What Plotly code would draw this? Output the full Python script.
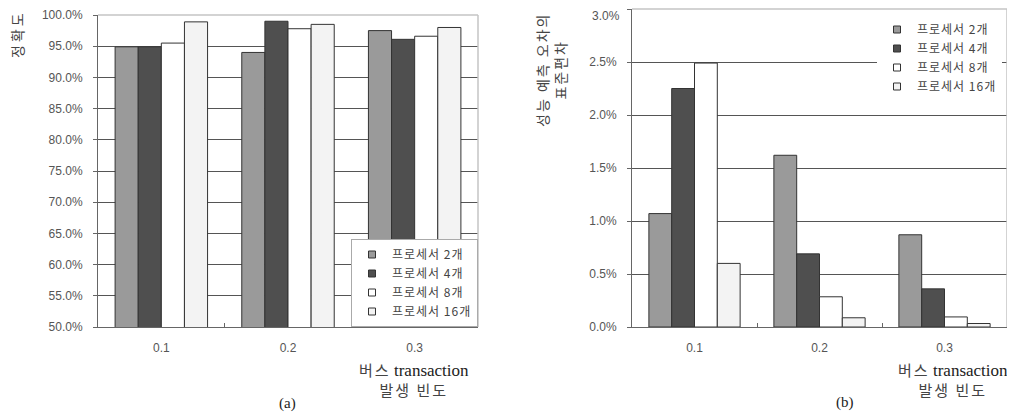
import plotly.graph_objects as go

categories = ["0.1", "0.2", "0.3"]
series_names = ["프로세서 2개", "프로세서 4개", "프로세서 8개", "프로세서 16개"]
series_colors = ["#9a9a9a", "#4f4f4f", "#ffffff", "#f3f3f3"]

# (a) accuracy (%)
acc_2 = [94.9, 94.0, 97.5]
acc_4 = [94.9, 99.0, 96.1]
acc_8 = [95.5, 97.8, 96.6]
acc_16 = [98.9, 98.5, 98.0]

# (b) standard deviation of prediction error (%)
std_2 = [1.07, 1.62, 0.87]
std_4 = [2.25, 0.69, 0.36]
std_8 = [2.49, 0.285, 0.095]
std_16 = [0.60, 0.087, 0.033]
std_max = 3.0

acc_series = [acc_2, acc_4, acc_8, acc_16]
std_series = [std_2, std_4, std_8, std_16]

W, H = 1015, 415
OFF = 8  # default page body margin offsets the figure by 8 px
def px(x):
    return (x - OFF) / W
def py(y):
    return 1 - (y - OFF) / H

def spaced(s, sp):
    return "<span style=\"letter-spacing:" + str(sp) + "px\">" + s + "</span>"

fig = go.Figure()

for name, col, vals in zip(series_names, series_colors, acc_series):
    fig.add_trace(go.Bar(x=categories, y=vals, name=name, marker=dict(color=col, line=dict(color="#333333", width=1)),
                         xaxis="x", yaxis="y", showlegend=False))
for name, col, vals in zip(series_names, series_colors, std_series):
    fig.add_trace(go.Bar(x=categories, y=vals, name=name, marker=dict(color=col, line=dict(color="#333333", width=1)),
                         xaxis="x2", yaxis="y2", showlegend=False))

# legend-only entries (small square swatches)
for leg, ax, ay in (("legend", "x", "y"), ("legend2", "x2", "y2")):
    for name, col in zip(series_names, series_colors):
        fig.add_trace(go.Scatter(x=[None], y=[None], mode="markers", name=spaced(name, 1),
                                 marker=dict(symbol="square", size=7, color=col, line=dict(color="#333333", width=1)),
                                 xaxis=ax, yaxis=ay, legend=leg))

tickfont = dict(family="Liberation Sans, Arial", size=12, color="#555555")

xcommon = dict(type="category", showline=True, linecolor="#666666", linewidth=1,
               ticks="inside", tickson="boundaries", ticklen=4, tickcolor="#666666",
               tickfont=tickfont, ticklabelstandoff=10, showgrid=False, zeroline=False)
ycommon = dict(showline=True, linecolor="#666666", linewidth=1, ticks="outside", ticklen=4,
               tickcolor="#666666", tickfont=tickfont, showgrid=True, gridcolor="#555555",
               gridwidth=1, zeroline=False, ticksuffix="%", tickformat=".1f", ticklabelstandoff=8)

legfont = dict(family="Noto Sans CJK KR", size=12, color="#444444")

fig.update_layout(
    width=W, height=H,
    margin=dict(l=0, r=0, t=0, b=0, autoexpand=False),
    paper_bgcolor="white", plot_bgcolor="white",
    barmode="group", bargap=0.27, bargroupgap=0,
    xaxis=dict(domain=[px(98), px(478)], anchor="y", **xcommon),
    yaxis=dict(domain=[py(327), py(15)], anchor="x", range=[50, 100], dtick=5, tick0=50,
               ticklabeloverflow="allow", **ycommon),
    xaxis2=dict(domain=[px(632), px(1007)], anchor="y2", **xcommon),
    yaxis2=dict(domain=[py(327), py(9)], anchor="x2", range=[0, std_max], dtick=0.5, tick0=0, **ycommon),
    legend=dict(x=px(478), y=py(327), xanchor="right", yanchor="bottom",
                bgcolor="white", bordercolor="#aaaaaa", borderwidth=1,
                font=legfont, itemwidth=30, tracegroupgap=0),
    legend2=dict(x=px(877), y=py(15), xanchor="left", yanchor="top",
                 bgcolor="white", borderwidth=0,
                 font=legfont, itemwidth=30, tracegroupgap=0),
    showlegend=True,
)

# top tick label of (b): the axis hides it at the page edge, so place it just below
fig.add_annotation(text=f"{std_max:.1f}%", xref="paper", yref="paper", x=px(621), y=py(8),
                   showarrow=False, font=tickfont, xanchor="right", yanchor="top", borderpad=0)

# light top/right plot borders
for xr, yr in (("x domain", "y domain"), ("x2 domain", "y2 domain")):
    fig.add_shape(type="line", xref=xr, yref=yr, x0=0, x1=1, y0=1, y1=1,
                  line=dict(color="#c4c4c4", width=1.5), layer="above")
    fig.add_shape(type="line", xref=xr, yref=yr, x0=1, x1=1, y0=0, y1=1,
                  line=dict(color="#c4c4c4", width=1.5), layer="above")

kfont = dict(family="Noto Sans CJK KR", size=14, color="#444444")
xfont = dict(family="Noto Sans CJK KR", size=15, color="#444444")

fig.add_annotation(text=spaced("정확도", 3), xref="paper", yref="paper", x=px(17), y=py(34),
                   textangle=-90, showarrow=False, font=kfont, xanchor="center", yanchor="middle")
fig.add_annotation(text=spaced("성능 예측 오차의", 2) + "<br>" + spaced("표준편차", 2),
                   xref="paper", yref="paper", x=px(551), y=py(70),
                   textangle=-90, showarrow=False, font=kfont, xanchor="center", yanchor="middle")

serif = "font-family:'Liberation Serif','Times New Roman',serif;font-size:17px;color:#222222"
xt = spaced("버스", 2) + " <span style=\"" + serif + "\">transaction</span><br>" + spaced("발생 빈도", 2)
fig.add_annotation(text=xt, xref="paper", yref="paper", x=px(414), y=py(379),
                   showarrow=False, font=xfont, xanchor="center", yanchor="middle")
fig.add_annotation(text=xt, xref="paper", yref="paper", x=px(953), y=py(379),
                   showarrow=False, font=xfont, xanchor="center", yanchor="middle")

capfont = dict(family="Liberation Serif, Times New Roman, serif", size=15, color="#222222")
fig.add_annotation(text="(a)", xref="paper", yref="paper", x=px(287), y=py(403),
                   showarrow=False, font=capfont, xanchor="center", yanchor="middle")
fig.add_annotation(text="(b)", xref="paper", yref="paper", x=px(845), y=py(402),
                   showarrow=False, font=capfont, xanchor="center", yanchor="middle")

fig.write_html("out.html")
